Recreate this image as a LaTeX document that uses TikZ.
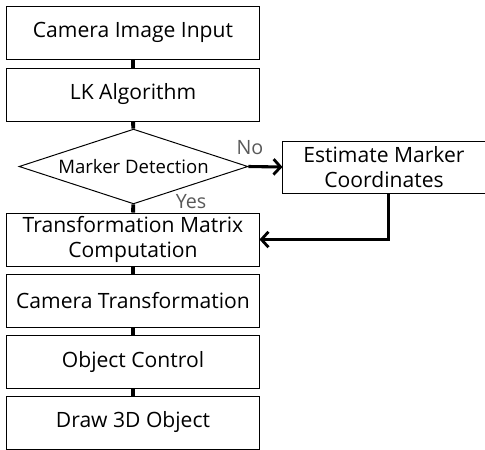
\documentclass[tikz,border=0pt]{standalone}
\usepackage{fontspec}
\setmainfont{Open Sans}
\usepackage{tikz}
\usetikzlibrary{shapes.geometric, arrows.meta}

\begin{document}
\begin{tikzpicture}[x=0.025cm, y=-0.025cm,
  stepbox/.style={draw, line width=0.7pt, minimum width=6.3cm, minimum height=1.325cm,
    inner sep=0pt, align=center, font=\fontsize{15}{18}\selectfont},
  decision/.style={draw, diamond, aspect=3.05, line width=0.7pt, minimum width=5.72cm,
    minimum height=1.87cm, inner sep=0pt, font=\fontsize{13.2}{16}\selectfont},
  link/.style={line width=2.8pt},
  flow/.style={line width=2.2pt, -{Straight Barb[length=5pt, width=11pt, line width=2pt]}},
  answer/.style={text=black!65, font=\fontsize{14}{16}\selectfont, inner sep=0pt}]
\useasboundingbox (0,0) rectangle (485,449);

\node[stepbox] (input) at (133,32.5) {Camera Image Input};
\node[stepbox] (lk) at (133,94.5) {LK Algorithm};
\node[decision] (detect) at (133.5,166.5) {Marker Detection};
\node[stepbox, minimum width=5.05cm, minimum height=1.3cm] (estimate) at (384,167) {Estimate Marker\\Coordinates};
\node[stepbox] (matrix) at (133,239.5) {Transformation Matrix\\Computation};
\node[stepbox] (camera) at (133,301) {Camera Transformation};
\node[stepbox] (control) at (133,362) {Object Control};
\node[stepbox] (draw3d) at (133,422.5) {Draw 3D Object};

\draw[link] (input) -- (lk);
\draw[link] (lk) -- (detect);
\draw[link] (detect) -- (matrix);
\draw[link] (matrix) -- (camera);
\draw[link] (camera) -- (control);
\draw[link] (control) -- (draw3d);

\draw[flow] (detect.east) -- (estimate.west);
\draw[flow] ([xshift=3]estimate.south) |- (matrix.east);

\node[answer] (no) at (250,148) {No};
\node[answer] (yes) at (191,202) {Yes};
\end{tikzpicture}
\end{document}
